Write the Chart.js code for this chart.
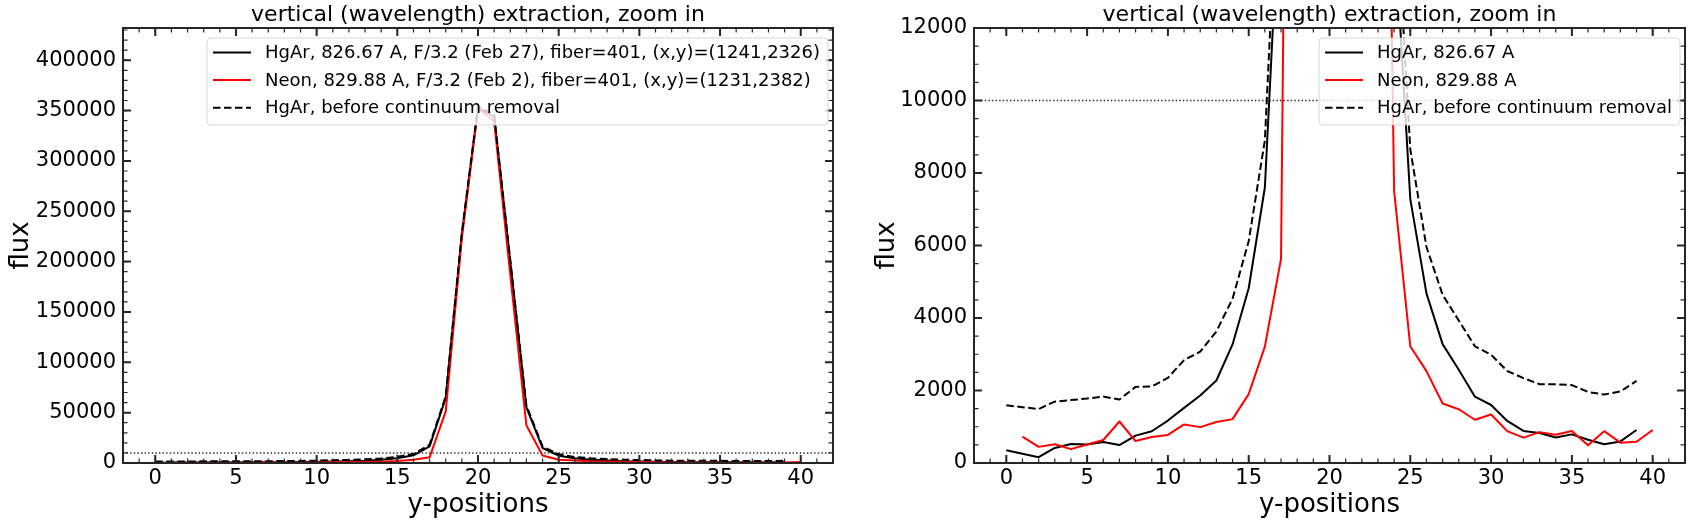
<!DOCTYPE html>
<html>
<head>
<meta charset="utf-8">
<script src="https://cdn.jsdelivr.net/npm/chart.js@4"></script>
<style>
html,body{margin:0;padding:0;background:#fff;overflow:hidden}
#wrap{position:relative;width:1692px;height:524px;background:#fff}
.panel{position:absolute;top:0;width:846px;height:524px}
canvas{display:block}
</style>
</head>
<body>
<div id="wrap">
  <div class="panel" style="left:0"><canvas id="left" width="846" height="524"></canvas></div>
  <div class="panel" style="left:846px"><canvas id="right" width="846" height="524"></canvas></div>
</div>
<script>
// ---------------- data ----------------
const TITLE = 'vertical (wavelength) extraction, zoom in';
const X_LABEL = 'y-positions';
const Y_LABEL = 'flux';

const hgarPositions = [0,1,2,3,4,5,6,7,8,9,10,11,12,13,14,15,16,17,18,19,20,21,22,23,24,25,26,27,28,29,30,31,32,33,34,35,36,37,38,39];
const hgarFlux = [350,255,160,415,525,510,580,495,755,875,1170,1520,1860,2275,3270,4820,7600,16500,64600,227000,352700,344000,200000,55300,14900,7280,4680,3280,2570,1830,1600,1160,885,830,705,790,640,515,595,910];

const neonPositions = [1,2,3,4,5,6,7,8,9,10,11,12,13,14,15,16,17,18,19,20,21,22,23,24,25,26,27,28,29,30,31,32,33,34,35,36,37,38,39,40];
const neonFlux = [730,445,515,382,510,635,1145,605,715,775,1065,990,1132,1210,1900,3210,5630,51300,223500,352000,339400,187000,37400,7500,3220,2535,1642,1483,1193,1338,878,700,852,778,882,488,878,562,586,911];

const hgarRawPositions = [0,1,2,3,4,5,6,7,8,9,10,11,12,13,14,15,16,17,18,19,20,21,22,23,24,25,26,27,28,29,30,31,32,33,34,35,36,37,38,39];
const hgarRawFlux = [1590,1540,1490,1695,1735,1778,1832,1753,2100,2108,2350,2840,3070,3630,4530,6120,8900,18200,66300,228700,354300,345600,201600,56900,16500,8650,5960,4640,3930,3218,2988,2537,2343,2173,2173,2150,1960,1888,1975,2264];

const thresholdFlux = 10000;

const labelsLeft = [
  'HgAr, 826.67 A, F/3.2 (Feb 27), fiber=401, (x,y)=(1241,2326)',
  'Neon, 829.88 A, F/3.2 (Feb 2), fiber=401, (x,y)=(1231,2382)',
  'HgAr, before continuum removal'
];
const labelsRight = [
  'HgAr, 826.67 A',
  'Neon, 829.88 A',
  'HgAr, before continuum removal'
];

const xRange = [-2, 42];
const xTicks = [0,5,10,15,20,25,30,35,40];
const yRangeLeft = [0, 432000];
const yTicksLeft = [0,50000,100000,150000,200000,250000,300000,350000,400000];
const yRangeRight = [0, 12000];
const yTicksRight = [0,2000,4000,6000,8000,10000,12000];

// ---------------- styling ----------------
Chart.defaults.font.family = "'DejaVu Sans', sans-serif";
Chart.defaults.color = '#000';
const AXIS_COLOR = '#262626';

function pts(xs, ys) { return xs.map((x, i) => ({x: x, y: ys[i]})); }

// draws the box frame, inward ticks (major + minor, all four sides) and legend
const framePlugin = {
  id: 'frameLegend',
  afterDatasetsDraw(chart, args, opts) {
    const {ctx, chartArea: a} = chart;
    const xs = chart.scales.x, ys = chart.scales.y;
    ctx.save();
    ctx.strokeStyle = AXIS_COLOR;
    ctx.lineCap = 'butt';
    const tickSet = (scale, values, len, width, horizontal) => {
      ctx.lineWidth = width;
      ctx.beginPath();
      values.forEach(v => {
        const p = scale.getPixelForValue(v);
        if (horizontal) {
          if (p < a.left - 0.5 || p > a.right + 0.5) return;
          ctx.moveTo(p, a.bottom); ctx.lineTo(p, a.bottom - len);
          ctx.moveTo(p, a.top); ctx.lineTo(p, a.top + len);
        } else {
          if (p < a.top - 0.5 || p > a.bottom + 0.5) return;
          ctx.moveTo(a.left, p); ctx.lineTo(a.left + len, p);
          ctx.moveTo(a.right, p); ctx.lineTo(a.right - len, p);
        }
      });
      ctx.stroke();
    };
    const minor = (lo, hi, step) => { const r = []; for (let v = Math.ceil(lo / step) * step; v <= hi + 1e-9; v += step) r.push(v); return r; };
    tickSet(xs, minor(xs.min, xs.max, opts.xMinor), 4.5, 1.2, true);
    tickSet(ys, minor(ys.min, ys.max, opts.yMinor), 4.5, 1.2, false);
    tickSet(xs, opts.xMajor, 8, 2, true);
    tickSet(ys, opts.yMajor, 8, 2, false);
    ctx.lineWidth = 2;
    ctx.strokeRect(a.left, a.top, a.right - a.left, a.bottom - a.top);

    // legend
    const items = chart.data.datasets.filter(d => d.inLegend).sort((p, q) => p.legendIndex - q.legendIndex);
    ctx.font = opts.legendFontSize + "px 'DejaVu Sans', sans-serif";
    let tw = 0;
    items.forEach(d => { tw = Math.max(tw, ctx.measureText(d.label).width); });
    const w = 58 + tw + 8;
    const h = 87;
    const right = a.right - 5;
    const left = right - w;
    const top = a.top + 10;
    ctx.beginPath();
    ctx.roundRect(left, top, w, h, 4);
    ctx.fillStyle = 'rgba(255,255,255,0.8)';
    ctx.fill();
    ctx.lineWidth = 1;
    ctx.strokeStyle = 'rgba(204,204,204,0.8)';
    ctx.stroke();
    items.forEach((d, i) => {
      const cy = top + 14.5 + i * 27.6;
      ctx.beginPath();
      ctx.setLineDash(d.borderDash || []);
      ctx.strokeStyle = d.borderColor;
      ctx.lineWidth = d.borderWidth;
      ctx.moveTo(left + 6, cy); ctx.lineTo(left + 44, cy);
      ctx.stroke();
      ctx.setLineDash([]);
      ctx.fillStyle = '#000';
      ctx.textBaseline = 'middle';
      ctx.textAlign = 'left';
      ctx.fillText(d.label, left + 58, cy + 1);
    });
    ctx.restore();
  }
};

function buildChart(id, p) {
  const datasets = [
    {label: p.labels[0], data: pts(hgarPositions, hgarFlux), borderColor: '#000000', borderWidth: 2, order: 3, inLegend: true, legendIndex: 0},
    {label: p.labels[1], data: pts(neonPositions, neonFlux), borderColor: '#ff0000', borderWidth: 2, order: 2, inLegend: true, legendIndex: 1},
    {label: p.labels[2], data: pts(hgarRawPositions, hgarRawFlux), borderColor: '#000000', borderWidth: 2, borderDash: [7.5, 3.5], order: 1, inLegend: true, legendIndex: 2},
    {label: 'threshold', data: [{x: xRange[0], y: thresholdFlux}, {x: xRange[1], y: thresholdFlux}], borderColor: 'rgba(20,20,20,0.9)', borderWidth: 1.4, borderDash: [1.4, 2.2], order: 4, inLegend: false}
  ];
  datasets.forEach(d => { d.pointRadius = 0; d.pointHoverRadius = 0; d.tension = 0; d.fill = false; d.clip = 0; d.borderCapStyle = 'butt'; d.borderJoinStyle = 'round'; });

  return new Chart(document.getElementById(id), {
    type: 'line',
    data: {datasets},
    plugins: [framePlugin],
    options: {
      responsive: false,
      animation: false,
      devicePixelRatio: 1,
      events: [],
      layout: {padding: {left: p.padLeft, right: p.padRight, top: 0, bottom: 0}},
      plugins: {
        legend: {display: false},
        tooltip: {enabled: false},
        title: {
          display: true, text: TITLE, fullSize: false,
          font: {size: 22, weight: 'normal', lineHeight: 1},
          color: '#000', padding: {top: 4, bottom: 2}
        },
        frameLegend: {xMajor: xTicks, yMajor: p.yTicks, xMinor: 1, yMinor: p.yMinor, legendFontSize: 18}
      },
      scales: {
        x: {
          type: 'linear', min: xRange[0], max: xRange[1],
          grid: {display: false, drawTicks: false},
          border: {display: false},
          afterBuildTicks: s => { s.ticks = xTicks.map(v => ({value: v})); },
          afterFit: s => { s.height = 61; },
          ticks: {font: {size: 21}, color: '#000', padding: 3, autoSkip: false, maxRotation: 0, callback: v => String(v)},
          title: {display: true, text: X_LABEL, font: {size: 26}, color: '#000', padding: {top: 0, bottom: 3}}
        },
        y: {
          type: 'linear', min: p.yRange[0], max: p.yRange[1],
          grid: {display: false, drawTicks: false},
          border: {display: false},
          afterBuildTicks: s => { s.ticks = p.yTicks.map(v => ({value: v})); },
          afterFit: s => { s.width = p.yWidth; },
          ticks: {font: {size: 21}, color: '#000', padding: 7, autoSkip: false, callback: v => String(v)},
          title: {display: true, text: Y_LABEL, font: {size: 26}, color: '#000', padding: {top: 6, bottom: 0}}
        }
      }
    }
  });
}

buildChart('left', {labels: labelsLeft, yRange: yRangeLeft, yTicks: yTicksLeft, yMinor: 10000, padLeft: 0, padRight: 13, yWidth: 123});
buildChart('right', {labels: labelsRight, yRange: yRangeRight, yTicks: yTicksRight, yMinor: 500, padLeft: 20, padRight: 7, yWidth: 108});
</script>
</body>
</html>
